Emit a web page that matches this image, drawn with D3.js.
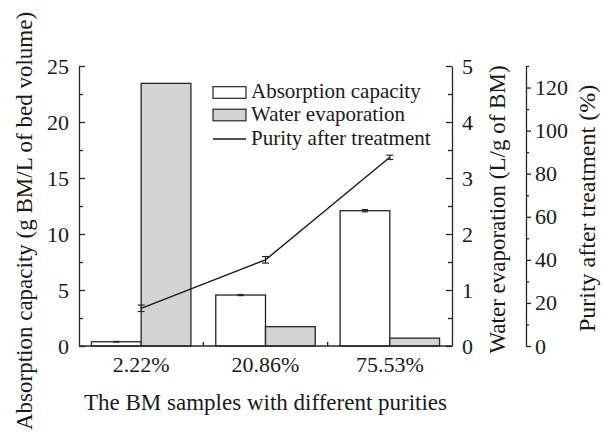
<!DOCTYPE html>
<html>
<head>
<meta charset="utf-8">
<script src="https://cdn.jsdelivr.net/npm/d3@7"></script>
<style>
  html, body { margin: 0; padding: 0; background: #fff; }
  svg { display: block; }
  svg text { font-family: "Liberation Serif", Tinos, "Times New Roman", "DejaVu Serif", serif !important; fill: #1a1a1a; }
</style>
</head>
<body>
<svg id="chart" width="602" height="440"></svg>
<script>
// ---- data ----
const categories = ["2.22%", "20.86%", "75.53%"];
const absorption = [0.38, 4.55, 12.08];      // g BM / L of bed volume
const absorptionErr = [0.03, 0.05, 0.1];
const waterEvap = [4.69, 0.345, 0.14];       // L / g of BM
const purity = [17.5, 40.0, 87.6];           // %
const purityErr = [1.5, 1.5, 1.0];
const leftTicks = [0, 5, 10, 15, 20, 25];
const right1Ticks = [0, 1, 2, 3, 4, 5];
const right2Ticks = [0, 20, 40, 60, 80, 100, 120];
const legendLabels = ["Absorption capacity", "Water evaporation", "Purity after treatment"];

const FONT = '"Liberation Serif", Tinos, "Times New Roman", "DejaVu Serif", serif';
const svg = d3.select("#chart");
const M = { left: 79, right: 452, top: 66, bottom: 346 };
const axis2X = 526;
const ink = "#262626";

const x = d3.scaleBand().domain(categories).range([M.left, M.right]).paddingInner(0.2).paddingOuter(0.1);
const yL = d3.scaleLinear().domain([0, 25]).range([M.bottom, M.top]);
const yR1 = d3.scaleLinear().domain([0, 5]).range([M.bottom, M.top]);
const yR2 = d3.scaleLinear().domain([0, 130]).range([M.bottom, M.top]);
const half = x.bandwidth() / 2;

// ---- bars ----
const g = svg.append("g");
g.selectAll("rect.abs").data(categories).enter().append("rect")
  .attr("x", d => x(d)).attr("width", half)
  .attr("y", (d, i) => yL(absorption[i])).attr("height", (d, i) => yL(0) - yL(absorption[i]))
  .attr("fill", "#ffffff").attr("stroke", ink).attr("stroke-width", 1.3);
g.selectAll("rect.wat").data(categories).enter().append("rect")
  .attr("x", d => x(d) + half).attr("width", half)
  .attr("y", (d, i) => yR1(waterEvap[i])).attr("height", (d, i) => yR1(0) - yR1(waterEvap[i]))
  .attr("fill", "#d4d4d4").attr("stroke", ink).attr("stroke-width", 1.3);

// absorption error bars
categories.forEach((c, i) => {
  const cx = x(c) + half / 2;
  const lo = yL(absorption[i] - absorptionErr[i]), hi = yL(absorption[i] + absorptionErr[i]);
  g.append("line").attr("x1", cx).attr("x2", cx).attr("y1", lo).attr("y2", hi).attr("stroke", ink).attr("stroke-width", 1.2);
  [lo, hi].forEach(yy => g.append("line").attr("x1", cx - 3).attr("x2", cx + 3).attr("y1", yy).attr("y2", yy).attr("stroke", ink).attr("stroke-width", 1.2));
});

// ---- purity line ----
const px = c => x(c) + half;
const line = d3.line().x((d, i) => px(categories[i])).y(d => yR2(d));
g.append("path").datum(purity).attr("d", line).attr("fill", "none").attr("stroke", "#1a1a1a").attr("stroke-width", 1.4);
categories.forEach((c, i) => {
  const cx = px(c);
  const lo = yR2(purity[i] - purityErr[i]), hi = yR2(purity[i] + purityErr[i]);
  g.append("line").attr("x1", cx).attr("x2", cx).attr("y1", lo).attr("y2", hi).attr("stroke", ink).attr("stroke-width", 1.2);
  [lo, hi].forEach(yy => g.append("line").attr("x1", cx - 3.5).attr("x2", cx + 3.5).attr("y1", yy).attr("y2", yy).attr("stroke", ink).attr("stroke-width", 1.2));
});

// ---- axes ----
function styleAxis(sel, fs) {
  sel.attr("font-family", FONT);
  sel.selectAll("path,line").attr("stroke", ink).attr("stroke-width", 1.3);
  sel.selectAll("text").attr("font-size", fs).attr("fill", "#1a1a1a").attr("font-family", FONT);
}
const fmt = d3.format("d");
// left
const aL = svg.append("g").attr("transform", `translate(${M.left},0)`)
  .call(d3.axisLeft(yL).tickValues(leftTicks).tickFormat(fmt).tickSizeInner(-6).tickSizeOuter(0).tickPadding(10));
styleAxis(aL, 22);
svg.append("g").attr("transform", `translate(${M.left},0)`)
  .call(d3.axisLeft(yL).tickValues(d3.range(2.5, 25, 5)).tickSizeInner(-4).tickSizeOuter(0).tickFormat(""))
  .call(s => { s.select("path").remove(); styleAxis(s, 0); });
// right 1
const aR1 = svg.append("g").attr("transform", `translate(${M.right},0)`)
  .call(d3.axisRight(yR1).tickValues(right1Ticks).tickFormat(fmt).tickSizeInner(-6).tickSizeOuter(0).tickPadding(10));
styleAxis(aR1, 22);
svg.append("g").attr("transform", `translate(${M.right},0)`)
  .call(d3.axisRight(yR1).tickValues(d3.range(0.5, 5, 1)).tickSizeInner(-4).tickSizeOuter(0).tickFormat(""))
  .call(s => { s.select("path").remove(); styleAxis(s, 0); });
// right 2
const aR2 = svg.append("g").attr("transform", `translate(${axis2X},0)`)
  .call(d3.axisRight(yR2).tickValues(right2Ticks).tickFormat(fmt).tickSizeInner(5).tickSizeOuter(0).tickPadding(4));
styleAxis(aR2, 22);
svg.append("g").attr("transform", `translate(${axis2X},0)`)
  .call(d3.axisRight(yR2).tickValues(d3.range(10, 131, 20)).tickSizeInner(3).tickSizeOuter(0).tickFormat(""))
  .call(s => { s.select("path").remove(); styleAxis(s, 0); });
// bottom
const aB = svg.append("g").attr("transform", `translate(0,${M.bottom})`)
  .call(d3.axisBottom(x).tickSize(0).tickPadding(10));
aB.select("path").attr("d", `M${M.left},0H${M.right}`);
styleAxis(aB, 22);
// group separator ticks
categories.slice(1).forEach(c => {
  const bx = x(c) - x.step() * x.paddingInner() / 2;
  svg.append("line").attr("x1", bx).attr("x2", bx).attr("y1", M.bottom).attr("y2", M.bottom - 4)
    .attr("stroke", ink).attr("stroke-width", 1.3);
});

// ---- axis titles ----
function title(tx, ty, rot, t, fs) {
  return svg.append("text").attr("transform", `translate(${tx},${ty})` + (rot ? " rotate(-90)" : ""))
    .attr("text-anchor", "middle").attr("font-family", FONT).attr("font-size", fs).text(t);
}
title(32, 221, true, "Absorption capacity (g BM/L of bed volume)", 23);
title(505, 209.5, true, "Water evaporation (L/g of BM)", 23);
title(595, 208.5, true, "Purity after treatment (%)", 24);
title((M.left + M.right) / 2, 410, false, "The BM samples with different purities", 23);

// ---- legend ----
const lg = svg.append("g").attr("transform", "translate(213,0)");
const rowY = [92.5, 115, 139];
lg.append("rect").attr("x", 0).attr("y", rowY[0] - 5.8).attr("width", 33).attr("height", 11.6)
  .attr("fill", "#fff").attr("stroke", ink).attr("stroke-width", 1.2);
lg.append("rect").attr("x", 0).attr("y", rowY[1] - 5.8).attr("width", 33).attr("height", 11.6)
  .attr("fill", "#d4d4d4").attr("stroke", ink).attr("stroke-width", 1.2);
lg.append("line").attr("x1", 0).attr("x2", 33).attr("y1", rowY[2]).attr("y2", rowY[2])
  .attr("stroke", "#1a1a1a").attr("stroke-width", 1.4);
legendLabels.forEach((t, i) => {
  lg.append("text").attr("x", 38).attr("y", rowY[i] + 5.5).attr("font-family", FONT).attr("font-size", 21).text(t);
});
</script>
</body>
</html>
